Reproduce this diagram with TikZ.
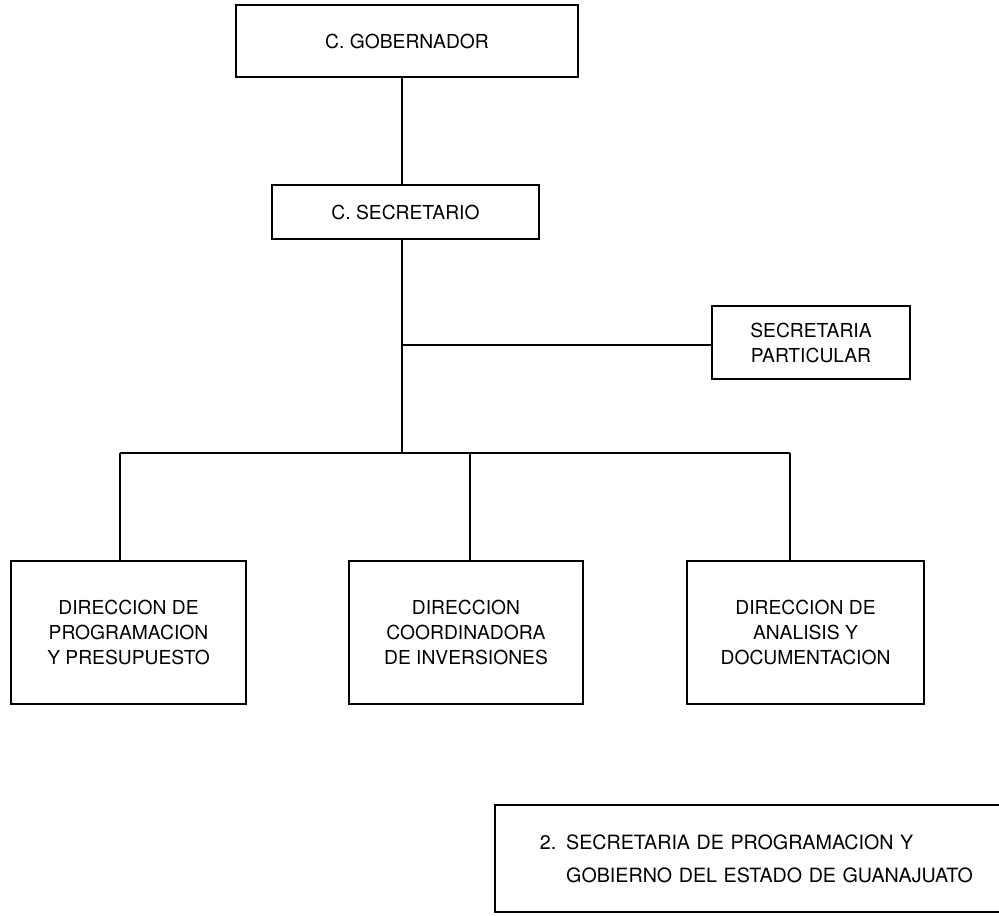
\documentclass[tikz,border=0pt]{standalone}
\usepackage{fontspec}
\setmainfont{TeX Gyre Heros}
\usetikzlibrary{positioning}

\tikzset{
  orgbox/.style={draw, line width=1.3pt, align=center, inner sep=0pt,
    font=\fontsize{13.7}{17.8}\selectfont},
  link/.style={line width=1.3pt},
}

\begin{document}
\begin{tikzpicture}[x=0.025cm, y=-0.025cm]
  \clip (0,0) rectangle (999,915);

  % top of the chart
  \node[orgbox, minimum width=8.55cm, minimum height=1.8cm] (gob) at (407,41) {C. GOBERNADOR};
  \node[orgbox, minimum width=6.675cm, minimum height=1.35cm] (sec) at (405.5,212) {C. SECRETARIO};
  \node[orgbox, minimum width=4.95cm, minimum height=1.825cm] (part) at (811,342.5) {SECRETARIA\\PARTICULAR};

  % the three direcciones
  \node[orgbox, minimum width=5.875cm, minimum height=3.575cm] (dprog) at (128.5,632.5)
    {DIRECCION DE\\PROGRAMACION\\Y PRESUPUESTO};
  \node[orgbox, minimum width=5.85cm, minimum height=3.575cm] (dcoord) at (466,632.5)
    {DIRECCION\\COORDINADORA\\DE INVERSIONES};
  \node[orgbox, minimum width=5.925cm, minimum height=3.575cm] (danal) at (805.5,632.5)
    {DIRECCION DE\\ANALISIS Y\\DOCUMENTACION};

  % caption box, cut at the right edge
  \node[draw, line width=1.3pt, anchor=west, text width=11.5cm, align=left,
    inner xsep=1.125cm, minimum height=2.675cm, font=\fontsize{14}{23.5}\selectfont] (nota) at (494,858.5)
    {2.\ \,SECRETARIA DE PROGRAMACION Y\\\phantom{2.\ \,}GOBIERNO DEL ESTADO DE GUANAJUATO};

  % connectors
  \coordinate (axis) at (402,0);
  \coordinate (fork) at (402,345);
  \coordinate (bus) at (402,453);
  \coordinate (d1) at (120,453);
  \coordinate (d2) at (470,453);
  \coordinate (d3) at (790,453);
  \draw[link] (gob.south -| axis) -- (sec.north -| axis);
  \draw[link] (sec.south -| axis) -- (bus);
  \draw[link] (fork) -- (fork -| part.west);
  \draw[link] (d1) -- (d3);
  \foreach \d/\b in {d1/dprog, d2/dcoord, d3/danal}
    \draw[link] (\d) -- (\d |- \b.north);
\end{tikzpicture}
\end{document}
